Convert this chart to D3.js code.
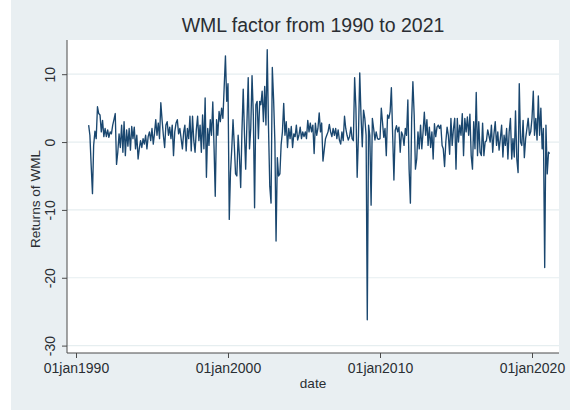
<!DOCTYPE html>
<html>
<head>
<meta charset="utf-8">
<script src="https://cdn.jsdelivr.net/npm/d3@7"></script>
<style>
  html, body { margin: 0; padding: 0; background: #ffffff; }
  svg { display: block; font-family: "Liberation Sans", Arial, sans-serif; }
</style>
</head>
<body>
<svg id="chart" width="570" height="414"></svg>
<script>
// Monthly WML (winners minus losers) returns, in percent, Nov 1990 – Mar 2021
const firstYear = 1990;
const firstMonth = 10; // 0-based month index: November

const returns = [
  /* 1990 */ 2.5, 1.0,
  /* 1991 */ -3.5, -7.6, -0.5, 1.6, 0.5, 5.2, 4.2, 4.0, 1.5, 3.2, 0.8, 2.0,
  /* 1992 */ 0.8, 1.8, 0.7, 1.5, 1.2, 2.5, 3.3, 4.2, -3.3, -1.5, 1.2, -0.8,
  /* 1993 */ 2.5, -1.5, 3.0, -2.0, 1.8, -0.6, 2.0, -1.2, 2.3, 0.5, 2.2, -1.0,
  /* 1994 */ 1.0, -2.5, -1.0, 0.2, -0.8, 0.5, -0.3, 1.0, -1.0, 0.8, 1.5, 0.2,
  /* 1995 */ 2.0, -0.3, 1.2, 3.3, 1.0, 2.8, 0.5, 5.8, 3.2, 1.0, -0.8, 2.5,
  /* 1996 */ 3.0, 1.0, 2.2, 0.5, 2.5, -2.0, 1.5, 2.8, 3.3, 1.2, 2.0, 0.5,
  /* 1997 */ -1.0, 1.5, 2.5, -1.3, 2.0, 0.5, 3.8, -1.3, 3.8, 0.2, -1.5, 1.8,
  /* 1998 */ 3.8, 0.2, 2.5, -1.5, 4.0, -1.0, 6.5, -5.2, 2.0, -0.5, 3.3, 1.0,
  /* 1999 */ 5.9, -1.0, -8.0, 3.3, 1.0, 4.5, 3.0, 5.0, 3.5, 8.0, 12.7, 6.0,
  /* 2000 */ 8.6, -11.4, -4.5, -1.0, 3.3, -0.5, -4.7, -5.0, 1.0, -2.0, -6.7, 1.5,
  /* 2001 */ 7.8, 1.0, -4.0, 3.0, 9.5, -1.0, 2.0, 9.8, 4.0, -9.7, 5.5, 6.0,
  /* 2002 */ 0.5, 6.0, 5.5, 7.5, 3.0, 8.2, 2.5, 13.6, 2.0, -6.5, -9.0, 11.0,
  /* 2003 */ 6.3, 0.0, -14.6, -2.3, -5.0, -4.7, -0.4, 1.5, 5.7, 1.0, 3.0, -0.8,
  /* 2004 */ 2.0, 0.5, 2.3, -0.8, 1.2, 0.8, 2.5, 0.3, 1.0, 2.2, 0.5, 1.5,
  /* 2005 */ 0.8, 1.5, 0.5, 3.2, 1.5, 2.8, 1.5, 2.5, -1.7, 2.8, 1.0, 2.0,
  /* 2006 */ 4.3, 1.5, 2.8, -2.8, -1.2, 0.5, 1.0, 1.5, 2.6, 1.5, 0.8, 2.0,
  /* 2007 */ 1.0, 2.0, 0.5, 1.8, 0.3, -0.3, 1.5, 0.2, 3.8, 2.0, 1.0, 0.3,
  /* 2008 */ 0.8, 2.2, 0.5, 0.2, 9.5, 5.0, -5.2, 1.0, 10.2, 4.0, -0.7, 4.7,
  /* 2009 */ 3.5, 1.0, -26.2, 2.5, 1.0, -9.3, 3.5, 2.0, 0.3, 1.5, 0.5, 0.4,
  /* 2010 */ 0.5, 5.0, 3.0, 0.7, 2.0, -2.0, 4.0, 3.5, 4.5, 8.0, 1.0, -5.6,
  /* 2011 */ 1.7, 2.4, 1.5, 2.2, -1.5, 1.5, 1.0, -0.5, 2.0, 1.0, 6.2, -4.0,
  /* 2012 */ -9.0, 3.5, 8.9, 4.0, -4.0, -2.5, 1.5, -1.0, 2.5, -1.0, 1.5, 4.4,
  /* 2013 */ 1.0, 3.3, -0.5, 2.2, -0.8, 1.5, -2.5, 2.7, 0.8, 2.2, 2.5, 2.0,
  /* 2014 */ 2.5, -0.5, -1.0, -3.6, 0.0, 2.2, 1.0, -1.8, 3.5, -0.5, 2.0, 3.5,
  /* 2015 */ -4.0, 3.5, 0.0, 2.5, 1.0, 4.2, -2.0, 3.5, 1.5, 3.7, 1.0, 4.1,
  /* 2016 */ -2.0, -4.0, 3.0, -1.0, 7.3, -2.0, 3.0, -1.5, -2.0, 2.8, -2.0, 0.0,
  /* 2017 */ 0.2, 1.8, 1.0, 0.0, 2.5, -1.5, 1.2, 3.0, -0.5, 1.5, -1.2, 0.5,
  /* 2018 */ 2.5, -2.2, 1.0, -0.5, 2.0, -2.5, 1.5, 3.5, -2.5, 0.5, -2.2, 4.6,
  /* 2019 */ -2.5, -4.5, 8.6, 0.0, -0.5, 3.2, -2.3, 0.5, 2.0, 3.5, 1.0, 1.5,
  /* 2020 */ 3.5, 7.5, 1.0, 3.5, 0.3, 6.8, 1.0, 5.0, -1.0, 2.0, -18.5, 2.5,
  /* 2021 */ -4.7, -1.5, -1.7
];

const yTicks = [-30, -20, -10, 0, 10];
const xTickYears = [1990, 2000, 2010, 2020];
const xTickLabels = ["01jan1990", "01jan2000", "01jan2010", "01jan2020"];

const titleText = "WML factor from 1990 to 2021";
const yTitle = "Returns of WML";
const xTitle = "date";

// ---- layout ----
const W = 570, H = 414;
const plot = { left: 67, right: 559, top: 40, bottom: 353 };

const navy = "#1a476f";
const gridColor = "#e6eef0";
const outerBg = "#e9eff2";
const axisColor = "#4a4a4a";
const textColor = "#2a2e33";

const data = returns.map((v, i) => ({
  date: new Date(Date.UTC(firstYear, firstMonth + i, 1)),
  value: v
}));

// Time scale anchored on the labelled Januaries, then stretched to the plot frame
const anchor = d3.scaleUtc()
  .domain([new Date(Date.UTC(1990, 0, 1)), new Date(Date.UTC(2020, 0, 1))])
  .range([76, 532]);
const x = d3.scaleUtc()
  .domain([anchor.invert(plot.left), anchor.invert(plot.right)])
  .range([plot.left, plot.right]);

const y = d3.scaleLinear().domain([-30, 10]).range([345.6, 74.2]);

const svg = d3.select("#chart");

// graph region and plot region
svg.append("rect").attr("x", 11).attr("y", 0).attr("width", W - 11).attr("height", 410)
  .attr("fill", outerBg);
svg.append("rect").attr("x", plot.left).attr("y", plot.top)
  .attr("width", plot.right - plot.left).attr("height", plot.bottom - plot.top)
  .attr("fill", "#ffffff");

// horizontal grid lines
svg.append("g").selectAll("line").data(yTicks).join("line")
  .attr("x1", plot.left).attr("x2", plot.right)
  .attr("y1", d => y(d)).attr("y2", d => y(d))
  .attr("stroke", gridColor).attr("stroke-width", 1.2);

// series line
const line = d3.line().x(d => x(d.date)).y(d => y(d.value));
svg.append("path").datum(data)
  .attr("d", line)
  .attr("fill", "none")
  .attr("stroke", navy)
  .attr("stroke-width", 1.35)
  .attr("stroke-linejoin", "round");

// y axis (plain hyphen for negatives)
const yAxis = d3.axisLeft(y).tickValues(yTicks).tickSize(5).tickFormat(d => String(d));
const gy = svg.append("g").attr("transform", `translate(${plot.left},0)`).call(yAxis);
gy.select(".domain").remove();
gy.append("line").attr("x1", 0).attr("x2", 0).attr("y1", plot.top).attr("y2", plot.bottom)
  .attr("stroke", axisColor);
gy.selectAll(".tick line").attr("stroke", axisColor);
gy.selectAll(".tick text")
  .attr("fill", textColor).attr("font-size", 14)
  .attr("text-anchor", "middle")
  .attr("x", null).attr("dy", null)
  .attr("transform", "translate(-12,0) rotate(-90)");

// x axis
const xAxis = d3.axisBottom(x)
  .tickValues(xTickYears.map(yr => new Date(Date.UTC(yr, 0, 1))))
  .tickSize(5)
  .tickFormat((d, i) => xTickLabels[i]);
const gx = svg.append("g").attr("transform", `translate(0,${plot.bottom})`).call(xAxis);
gx.select(".domain").remove();
gx.append("line").attr("x1", plot.left).attr("x2", plot.right).attr("y1", 0).attr("y2", 0)
  .attr("stroke", axisColor);
gx.selectAll(".tick line").attr("stroke", axisColor);
gx.selectAll(".tick text")
  .attr("fill", textColor).attr("font-size", 14)
  .attr("y", 20).attr("dy", null);

// titles
svg.append("text").attr("x", 313).attr("y", 32)
  .attr("text-anchor", "middle").attr("font-size", 19.5).attr("fill", textColor)
  .text(titleText);

svg.append("text").attr("x", 313).attr("y", 388)
  .attr("text-anchor", "middle").attr("font-size", 13.6).attr("fill", textColor)
  .text(xTitle);

svg.append("text")
  .attr("transform", "translate(40,199) rotate(-90)")
  .attr("text-anchor", "middle").attr("font-size", 13.6).attr("fill", textColor)
  .text(yTitle);
</script>
</body>
</html>
